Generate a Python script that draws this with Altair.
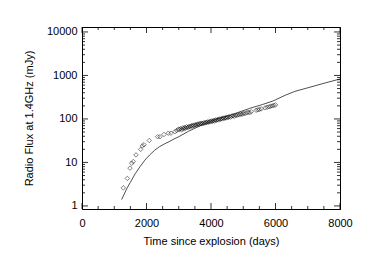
import altair as alt
import pandas as pd

# Observed radio flux (open diamonds)
obs_t = [1281, 1405, 1488, 1540, 1591, 1674, 1819, 1870, 1922, 2087, 2346, 2418, 2542, 2676, 2759, 2883, 2935, 2986,
         3020, 3060, 3090, 3120, 3150, 3180, 3210, 3240, 3270, 3300, 3330, 3360, 3390, 3420, 3450, 3480, 3510, 3540,
         3570, 3600, 3630, 3660, 3690, 3720, 3750, 3780, 3810, 3840, 3870, 3900, 3930, 3960, 3990, 4020, 4050, 4080,
         4110, 4140, 4170, 4200, 4230, 4260, 4290, 4320, 4350, 4380, 4410, 4440, 4470, 4500, 4530, 4560, 4600, 4640,
         4680, 4720, 4760, 4800, 4840, 4880, 4920, 4960, 5000, 5050, 5100, 5150, 5200, 5250, 5400, 5450, 5500, 5560,
         5680, 5740, 5800, 5850, 5900, 5950, 6000]
obs_f = [2.6, 4.3, 7.4, 9.6, 10.5, 14.9, 20, 24, 25.5, 32, 39, 39, 44, 47, 47, 51, 54, 58,
         57, 60, 56, 62, 59, 64, 61, 66, 63, 65, 68, 66, 70, 68, 72, 70, 74, 72,
         75, 77, 74, 79, 77, 80, 78, 82, 80, 84, 82, 86, 84, 88, 86, 90, 88, 93,
         90, 95, 93, 97, 95, 100, 98, 102, 100, 105, 103, 107, 105, 110, 108, 113, 110, 116,
         118, 115, 122, 120, 126, 124, 130, 128, 134, 132, 138, 142, 140, 147, 158, 162, 165, 170,
         180, 186, 190, 196, 200, 205, 210]

# Model curve
mod_t = [1230, 1400, 1500, 1650, 1800, 1950, 2100, 2250, 2400, 2550, 2700, 2850, 3000, 3300, 3600, 3800,
         4200, 4600, 5200, 5600, 5900, 6000, 6300, 6600, 7000, 7500, 8000]
mod_f = [1.4, 2.6, 3.5, 5.5, 8.0, 11.3, 14.9, 19, 23, 26.5, 30, 34.5, 39, 52, 66, 78,
         100, 122, 175, 215, 255, 275, 350, 430, 520, 660, 830]

y_major = [1, 10, 100, 1000, 10000]
y_minor = [2, 3, 4, 5, 6, 7, 8, 9, 20, 30, 40, 50, 60, 70, 80, 90, 200, 300, 400, 500, 600, 700, 800, 900,
           2000, 3000, 4000, 5000, 6000, 7000, 8000, 9000]
x_major = [0, 2000, 4000, 6000, 8000]
x_minor = [500, 1000, 1500, 2500, 3000, 3500, 4500, 5000, 5500, 6500, 7000, 7500]

W, H = 258, 182
xs = alt.Scale(domain=[0, 8000], nice=False, zero=False)
ys = alt.Scale(type="log", domain=[0.85, 13000], nice=False)
XT = "Time since explosion (days)"
YT = "Radio Flux at 1.4GHz (mJy)"

obs = pd.DataFrame({"t": obs_t, "f": obs_f})
mod = pd.DataFrame({"t": mod_t, "f": mod_f})

points = alt.Chart(obs).mark_point(shape="diamond", filled=False, size=20, strokeWidth=0.7, color="black").encode(
    x=alt.X("t:Q", scale=xs, title=XT,
            axis=alt.Axis(values=x_major, format="d", ticks=False, grid=False, domainColor="black",
                          labelPadding=8, titlePadding=7, labelFlush=False)),
    y=alt.Y("f:Q", scale=ys, title=YT,
            axis=alt.Axis(values=y_major, format="d", ticks=False, grid=False, domainColor="black",
                          labelPadding=5, titlePadding=12, labelFlush=False)),
)
line = alt.Chart(mod).mark_line(color="#222222", strokeWidth=0.8).encode(
    x=alt.X("t:Q", scale=xs, title=XT), y=alt.Y("f:Q", scale=ys, title=YT))

def yticks(vals, ln):
    d = pd.DataFrame({"v": vals})
    left = alt.Chart(d).mark_rule(color="black", strokeWidth=0.8).encode(
        y=alt.Y("v:Q", scale=ys, title=YT), x=alt.value(0), x2=alt.value(ln))
    right = alt.Chart(d).mark_rule(color="black", strokeWidth=0.8).encode(
        y=alt.Y("v:Q", scale=ys, title=YT), x=alt.value(W), x2=alt.value(W - ln))
    return [left, right]

def xticks(vals, ln):
    d = pd.DataFrame({"v": vals})
    bot = alt.Chart(d).mark_rule(color="black", strokeWidth=0.8).encode(
        x=alt.X("v:Q", scale=xs, title=XT), y=alt.value(H), y2=alt.value(H - ln))
    top = alt.Chart(d).mark_rule(color="black", strokeWidth=0.8).encode(
        x=alt.X("v:Q", scale=xs, title=XT), y=alt.value(0), y2=alt.value(ln))
    return [bot, top]

layers = [points, line] + yticks(y_major, 6) + yticks(y_minor, 3) + xticks(x_major, 6) + xticks(x_minor, 3)

chart = alt.layer(*layers).properties(
    width=W, height=H,
    autosize=alt.AutoSizeParams(type="none"),
    padding={"left": 74, "top": 19, "right": 18, "bottom": 45},
).configure_view(stroke="black", strokeWidth=1).configure_axis(
    labelFont="Liberation Sans", titleFont="Liberation Sans", labelFontSize=11, titleFontSize=11,
    titleFontWeight="normal", labelColor="black", titleColor="black", domainWidth=1,
)

chart.save("out.html", embed_options={"renderer": "svg", "actions": False})
